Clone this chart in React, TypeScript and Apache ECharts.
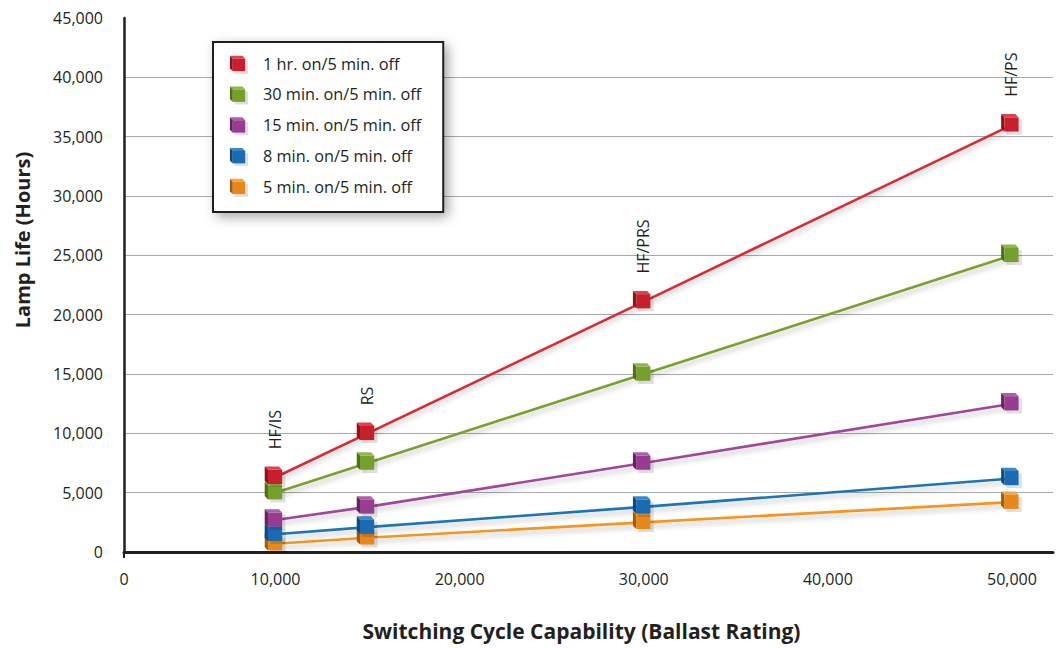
import React, { useEffect, useRef } from "react";
import * as echarts from "echarts";

// Ballast switching-cycle ratings (x) and the lamp type at each rating
const RATINGS = [10000, 15000, 30000, 50000];
const BALLAST_TYPES = ["HF/IS", "RS", "HF/PRS", "HF/PS"];

// Lamp life in hours for each on/off cycle
const ONE_HOUR = [6300, 10000, 21100, 36000];
const THIRTY_MIN = [5000, 7500, 15000, 25000];
const FIFTEEN_MIN = [2700, 3800, 7500, 12500];
const EIGHT_MIN = [1500, 2100, 3800, 6200];
const FIVE_MIN = [700, 1200, 2500, 4200];

const SERIES_NAMES = [
  "1 hr. on/5 min. off",
  "30 min. on/5 min. off",
  "15 min. on/5 min. off",
  "8 min. on/5 min. off",
  "5 min. on/5 min. off",
];

// Y axis ticks
const Y_MIN = 0;
const Y_MAX = 45000;
const Y_STEP = 5000;

// X axis: the origin is drawn as "0" and the scale runs on from there
const X_MIN = 1770;
const X_MAX = 52230;
const X_TICKS = [X_MIN, 10000, 20000, 30000, 40000, 50000];

const FONT = "'Open Sans', 'Noto Sans', sans-serif";
const INK = "#231f20";

type Palette = { line: string; front: string; top: string; side: string };

const PALETTES: Palette[] = [
  { line: "#e1252f", front: "#c81f2c", top: "#dc4550", side: "#8f111d" },
  { line: "#78a22f", front: "#74a02b", top: "#8fb84a", side: "#4c7216" },
  { line: "#a1479b", front: "#973c90", top: "#b05eaa", side: "#652262" },
  { line: "#1b74ba", front: "#196cb1", top: "#3a88c7", side: "#0c4a80" },
  { line: "#f7941d", front: "#e6891a", top: "#f2a543", side: "#a55c0a" },
];

// Small shaded cube used as the point marker and the legend icon
function cubeIcon(p: Palette): string {
  const svg =
    `<svg xmlns="http://www.w3.org/2000/svg" width="22" height="22" viewBox="0 0 22 22">` +
    `<rect x="7" y="8" width="14" height="14" fill="#000" fill-opacity="0.12"/>` +
    `<polygon points="2,3 15,3 18,6 5,6" fill="${p.top}"/>` +
    `<polygon points="2,3 5,6 5,19 2,16" fill="${p.side}"/>` +
    `<rect x="5" y="6" width="13" height="13" fill="${p.front}"/>` +
    `</svg>`;
  return "image://data:image/svg+xml;charset=utf-8," + encodeURIComponent(svg);
}

const fmt = (v: number) => v.toLocaleString("en-US");

export default function App() {
  const ref = useRef<HTMLDivElement>(null);

  useEffect(() => {
    if (!ref.current) return;
    const chart = echarts.init(ref.current, null, { renderer: "svg" });

    const values = [ONE_HOUR, THIRTY_MIN, FIFTEEN_MIN, EIGHT_MIN, FIVE_MIN];

    const series = values.map((vals, i) => {
      const p = PALETTES[i];
      return {
        name: SERIES_NAMES[i],
        type: "line",
        data: RATINGS.map((x, j) => [x, vals[j]]),
        symbol: cubeIcon(p),
        symbolSize: 24,
        symbolOffset: [-1, -2],
        showAllSymbol: true,
        z: 10 - i,
        lineStyle: {
          color: p.line,
          width: 2.6,
          shadowColor: "rgba(0,0,0,0.22)",
          shadowBlur: 5,
          shadowOffsetY: 4,
        },
        itemStyle: { color: p.front },
        label:
          i === 0
            ? {
                show: true,
                position: "top",
                distance: 14,
                rotate: 90,
                align: "left",
                verticalAlign: "middle",
                fontFamily: FONT,
                fontSize: 16,
                color: INK,
                formatter: (d: any) => BALLAST_TYPES[d.dataIndex],
              }
            : { show: false },
        emphasis: { disabled: true },
      };
    });

    chart.setOption({
      animation: false,
      backgroundColor: "#ffffff",
      textStyle: { fontFamily: FONT },
      grid: { left: 124, right: 7, top: 18, bottom: 96, containLabel: false },
      legend: {
        orient: "vertical",
        left: 213,
        top: 42,
        padding: [11, 22, 15, 15],
        itemWidth: 21,
        itemHeight: 21,
        itemGap: 9.75,
        backgroundColor: "#ffffff",
        borderColor: INK,
        borderWidth: 2,
        shadowColor: "rgba(0,0,0,0.35)",
        shadowBlur: 12,
        shadowOffsetX: 4,
        shadowOffsetY: 4,
        textStyle: {
          fontFamily: FONT,
          fontSize: 16.3,
          color: INK,
          padding: [0, 0, 0, 9],
        },
        data: SERIES_NAMES.map((n, i) => ({ name: n, icon: cubeIcon(PALETTES[i]) })),
        selectedMode: false,
      },
      xAxis: {
        type: "value",
        min: X_MIN,
        max: X_MAX,
        name: "Switching Cycle Capability (Ballast Rating)",
        nameLocation: "middle",
        nameGap: 68,
        nameTextStyle: {
          fontFamily: FONT,
          fontSize: 21,
          fontWeight: "bold",
          color: INK,
          padding: [0, 14, 0, 0],
        },
        axisLine: { show: true, onZero: false, lineStyle: { color: INK, width: 3 } },
        axisTick: {
          show: true,
          customValues: [X_MIN],
          length: 6,
          lineStyle: { color: INK, width: 2 },
        },
        axisLabel: {
          customValues: X_TICKS,
          margin: 19,
          fontFamily: FONT,
          fontSize: 16,
          color: INK,
          formatter: (v: number) => (v === X_MIN ? "0" : fmt(v)),
        },
        splitLine: { show: false },
      },
      yAxis: {
        type: "value",
        min: Y_MIN,
        max: Y_MAX,
        interval: Y_STEP,
        axisLine: { show: true, lineStyle: { color: INK, width: 2.5 } },
        axisTick: { show: false },
        axisLabel: {
          margin: 21,
          fontFamily: FONT,
          fontSize: 16,
          color: INK,
          formatter: (v: number) => fmt(v),
        },
        splitLine: {
          show: true,
          showMinLine: false,
          showMaxLine: false,
          lineStyle: { color: "#a7a9ac", width: 1.2 },
        },
      },
      graphic: [
        {
          type: "text",
          x: 22,
          y: 240,
          rotation: Math.PI / 2,
          style: {
            text: "Lamp Life (Hours)",
            fontFamily: FONT,
            fontSize: 20,
            fontWeight: "bold",
            fill: INK,
            align: "center",
            verticalAlign: "middle",
          },
        },
      ],
      series,
    });

    return () => chart.dispose();
  }, []);

  return <div ref={ref} style={{ width: 1060, height: 648, position: "absolute", left: 0, top: 0 }} />;
}
